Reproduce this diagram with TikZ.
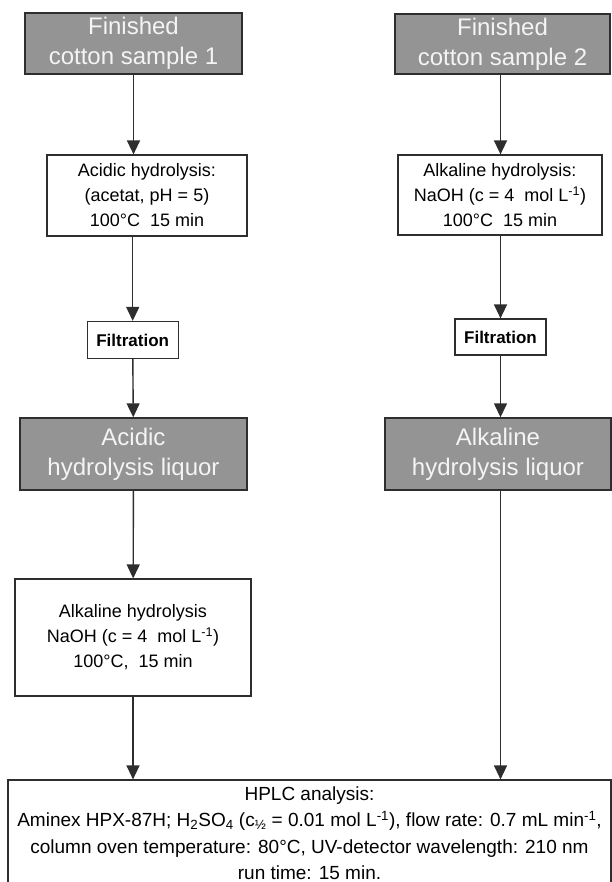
\documentclass[tikz,border=0pt]{standalone}
\usepackage{fontspec}
\setmainfont{Liberation Sans}
\definecolor{boxgray}{HTML}{949494}
\definecolor{linegray}{HTML}{2E2E2E}
\definecolor{labelwhite}{HTML}{F4F4F4}
\usetikzlibrary{arrows.meta, calc}

\begin{document}
\begin{tikzpicture}[
    x=1pt, y=-1pt,
    sample/.style={
      rectangle, draw=linegray, line width=1.4pt,
      fill=boxgray, text=labelwhite, align=center,
      font=\fontsize{24}{30}\selectfont, inner sep=0pt
    },
    proc/.style={
      rectangle, draw=linegray, line width=1.2pt,
      fill=white, text=black, align=center,
      font=\fontsize{18}{25}\selectfont, inner sep=0pt
    },
    filt/.style={proc, font=\fontsize{17}{20}\selectfont\bfseries},
    hplc/.style={proc, font=\fontsize{19}{26.5}\selectfont},
    flow/.style={draw=linegray, line width=1.4pt, ->},
    >={Triangle[width=13pt,length=14pt]}
  ]
    \useasboundingbox (0,0) rectangle (612,882);

    \node[sample, minimum width=217pt, minimum height=61pt] (sample1) at (133.5,43.5) {Finished\\cotton sample 1};
    \node[sample, minimum width=215pt, minimum height=60pt] (sample2) at (502.5,44)   {Finished\\cotton sample 2};

    \node[proc, minimum width=200pt, minimum height=81pt] (acid) at (147,195.5) {Acidic hydrolysis:\\(acetat, pH = 5)\\100°C\ \ 15 min};
    \node[proc, minimum width=204pt, minimum height=80pt] (alk)  at (500,195)   {Alkaline hydrolysis:\\NaOH (c = 4\ \ mol L\textsuperscript{-1})\\100°C\ \ 15 min};

    \node[filt, minimum width=91pt, minimum height=37pt] (filt1) at (132.7,340) {Filtration};
    \node[filt, minimum width=91pt, minimum height=36pt] (filt2) at (500.5,337) {Filtration};

    \node[sample, minimum width=227pt, minimum height=72pt] (liq1) at (133.5,454) {Acidic\\hydrolysis liquor};
    \node[sample, minimum width=226pt, minimum height=72pt] (liq2) at (498,454)   {Alkaline\\hydrolysis liquor};

    \node[proc, minimum width=236pt, minimum height=117pt] (alk2) at (133,637.5) {Alkaline hydrolysis\\NaOH (c = 4\ \ mol L\textsuperscript{-1})\\100°C,\ \ 15 min};

    \node[hplc, minimum width=603pt, minimum height=106pt] (hplc) at (309.5,833) {HPLC analysis:\\Aminex HPX-87H; H\textsubscript{2}SO\textsubscript{4} (c\textsubscript{½} = 0.01 mol L\textsuperscript{-1}), flow rate: 0.7 mL min\textsuperscript{-1},\\column oven temperature: 80°C, UV-detector wavelength: 210 nm\\run time: 15 min.};

    % left column
    \draw[flow] (sample1) -- (sample1 |- acid.north);
    \draw[flow] (acid.south -| filt1) -- (filt1);
    \draw[flow] (filt1) -- (liq1);
    \draw[flow] (liq1) -- (alk2);
    \draw[flow] (alk2) -- (alk2 |- hplc.north);

    % right column
    \draw[flow] (sample2.south -| filt2) -- (filt2 |- alk.north);
    \draw[flow] (alk.south -| filt2) -- (filt2);
    \draw[flow] (filt2) -- (filt2 |- liq2.north);
    \draw[flow] (filt2 |- liq2.south) -- (filt2 |- hplc.north);
  \end{tikzpicture}
\end{document}
